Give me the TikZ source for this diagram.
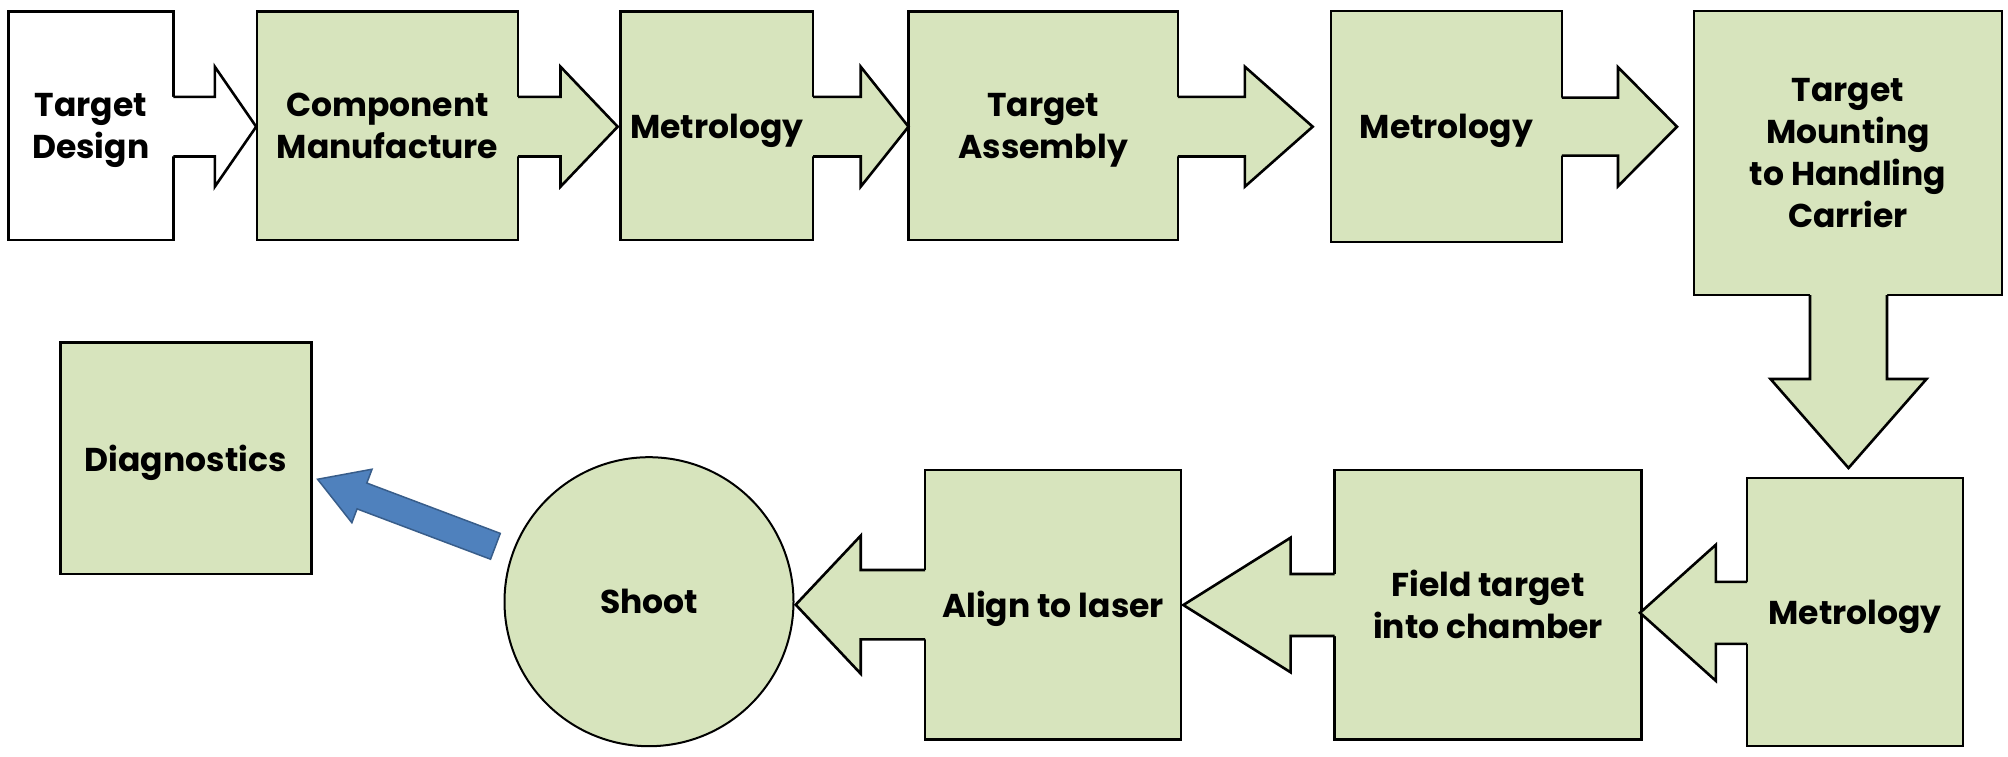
\documentclass[tikz,border=0pt]{standalone}
\usepackage{fontspec}
\setmainfont{Poppins}
\usetikzlibrary{calc}
\definecolor{boxgreen}{HTML}{D7E4BD}
\definecolor{arrblue}{HTML}{4F81BD}
\definecolor{arrblueline}{HTML}{385D8A}
\newcommand\lbl{\fontsize{33}{42}\selectfont\bfseries}
\tikzset{
  box/.style={draw=black, fill=boxgreen, line width=2.6pt, inner sep=0pt, align=center, font=\lbl, text depth=0pt},
  multiline/.style={text depth=-6pt},
  arrline/.style={draw=black, line width=2.6pt, line join=miter},
}
% right block arrow: src, fill, axis y, shaft half, head half, base x, tip x
\newcommand\rarr[7]{%
  \fill[#2] let \p1=(#1.east) in ({\x1-3pt},{#3-#4}) -- (#6,{#3-#4}) -- (#6,{#3-#5}) -- (#7,#3) -- (#6,{#3+#5}) -- (#6,{#3+#4}) -- ({\x1-3pt},{#3+#4}) -- cycle;
  \draw[arrline] let \p1=(#1.east) in ({\x1-1.3pt},{#3-#4}) -- (#6,{#3-#4}) -- (#6,{#3-#5}) -- (#7,#3) -- (#6,{#3+#5}) -- (#6,{#3+#4}) -- ({\x1-1.3pt},{#3+#4});
}
% left block arrow
\newcommand\larr[7]{%
  \fill[#2] let \p1=(#1.west) in ({\x1+3pt},{#3-#4}) -- (#6,{#3-#4}) -- (#6,{#3-#5}) -- (#7,#3) -- (#6,{#3+#5}) -- (#6,{#3+#4}) -- ({\x1+3pt},{#3+#4}) -- cycle;
  \draw[arrline] let \p1=(#1.west) in ({\x1+1.3pt},{#3-#4}) -- (#6,{#3-#4}) -- (#6,{#3-#5}) -- (#7,#3) -- (#6,{#3+#5}) -- (#6,{#3+#4}) -- ({\x1+1.3pt},{#3+#4});
}
% down block arrow: src, fill, axis x, shaft half, head half, base y, tip y
\newcommand\darr[7]{%
  \fill[#2] let \p1=(#1.south) in ({(#3-#4)*1pt},{\y1+3pt}) -- ({#3-#4},#6) -- ({#3-#5},#6) -- (#3,#7) -- ({#3+#5},#6) -- ({#3+#4},#6) -- ({(#3+#4)*1pt},{\y1+3pt}) -- cycle;
  \draw[arrline] let \p1=(#1.south) in ({(#3-#4)*1pt},{\y1+1.3pt}) -- ({#3-#4},#6) -- ({#3-#5},#6) -- (#3,#7) -- ({#3+#5},#6) -- ({#3+#4},#6) -- ({(#3+#4)*1pt},{\y1+1.3pt});
}
\begin{document}
\begin{tikzpicture}[x=1pt,y=-1pt]
\useasboundingbox (0,0) rectangle (2008,757);
% top row
\node[box, multiline, fill=white, minimum width=165pt, minimum height=228.3pt] (b1) at (90.8,125.9) {Target\\Design};
\node[box, multiline, minimum width=261pt, minimum height=228.3pt] (b2) at (387.5,125.9) {Component\\Manufacture};
\node[box, minimum width=192.4pt, minimum height=228.3pt] (b3) at (716.8,125.9) {Metrology};
\node[box, multiline, minimum width=269.3pt, minimum height=228.3pt] (b4) at (1043.2,125.9) {Target\\Assembly};
\node[box, minimum width=231pt, minimum height=231pt] (b5) at (1446.3,126.5) {Metrology};
\node[box, multiline, minimum width=308pt, minimum height=284pt] (b6) at (1848,153) {Target\\Mounting\\to Handling\\Carrier};
% bottom row
\node[box, minimum width=216pt, minimum height=268pt] (b7) at (1855,612) {Metrology};
\node[box, minimum width=307pt, minimum height=269.3pt] (b8) at (1488,604.7) {Field target\\into chamber};
\node[box, minimum width=256pt, minimum height=269.3pt] (b9) at (1053,604.7) {Align to laser};
\node[box, circle, line width=2pt, minimum size=289pt] (shoot) at (649,601.7) {Shoot};
\node[box, minimum width=251pt, minimum height=231.3pt] (diag) at (185.7,458.35) {Diagnostics};
% block arrows
\rarr{b1}{white}{126.7}{29.8}{60}{214.8}{256.2}
\rarr{b2}{boxgreen}{126.7}{29.8}{60}{560.5}{617.7}
\rarr{b3}{boxgreen}{126.7}{29.8}{60}{860.7}{908.5}
\rarr{b4}{boxgreen}{126.7}{29.8}{60}{1244.8}{1312.7}
\rarr{b5}{boxgreen}{126.7}{29}{59.5}{1618}{1677}
\darr{b6}{boxgreen}{1848.5}{38.5}{78}{379}{468}
\larr{b7}{boxgreen}{612.8}{31}{68}{1715.8}{1640}
\larr{b8}{boxgreen}{605}{31}{67.3}{1290.6}{1183.3}
\larr{b9}{boxgreen}{604.7}{34.7}{69}{860.7}{795.7}
% blue arrow from Shoot to Diagnostics
\coordinate (bt) at ($(shoot.center)+(-153.6,-55.4)$);
\coordinate (bp) at ($(diag.east)+(5.1,20.9)$);
\coordinate (bb) at ($(bp)!47.4pt!(bt)$);
\draw[fill=arrblue, draw=arrblueline, line width=1.5pt, line join=miter]
  ($(bt)!13.8pt!90:(bp)$) -- ($(bb)!13.8pt!90:(bp)$) -- ($(bb)!28.6pt!90:(bp)$) -- (bp)
  -- ($(bb)!28.6pt!-90:(bp)$) -- ($(bb)!13.8pt!-90:(bp)$) -- ($(bt)!13.8pt!-90:(bp)$) -- cycle;
\end{tikzpicture}
\end{document}
